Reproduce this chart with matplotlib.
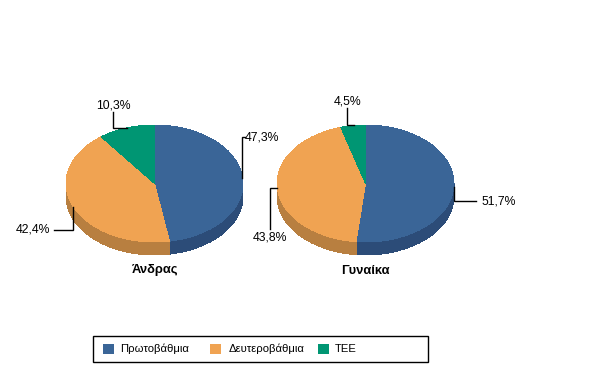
import matplotlib
matplotlib.use('Agg')
import matplotlib.pyplot as plt
from matplotlib.patches import Rectangle

plt.rcParams['font.family'] = ['Liberation Sans', 'DejaVu Sans']

W, H = 601, 368

categories = ['Πρωτοβάθμια', 'Δευτεροβάθμια', 'ΤΕΕ']
groups = ['Άνδρας', 'Γυναίκα']
men = [47.3, 42.4, 10.3]
women = [51.7, 43.8, 4.5]

top_colors = ['#3A6597', '#F0A352', '#009673']
side_colors = ['#2C4C78', '#B87F40', '#007256']

# pixel layout: left, right of the ellipse, label places and leader lines
boxes = [(66, 243), (277, 454)]
pie_top, pie_bottom = 125, 242
depth = 13
men_labels = [((245, 137), 'left', [(242, 178), (242, 137), (245, 137)]),
              ((50, 230), 'right', [(54, 230), (73, 230), (73, 207)]),
              ((113, 105), 'center', [(113, 112), (113, 128), (127, 128)])]
women_labels = [((481, 201), 'left', [(454, 187), (454, 201), (476, 201)]),
                ((270, 237), 'center', [(270, 229), (270, 188), (277, 188)]),
                ((348, 101), 'center', [(347, 108), (347, 125), (354, 125)])]


def fmt(v):
    return f'{v:.1f}%'.replace('.', ',')


fig = plt.figure(figsize=(W / 100, H / 100), dpi=100, facecolor='white')

for (x0, x1), values in zip(boxes, [men, women]):
    ax = fig.add_axes([x0 / W, 1 - pie_bottom / H, (x1 - x0) / W, (pie_bottom - pie_top) / H])
    ry = (pie_bottom - pie_top) / 2
    # stack of darker pies gives the rim
    for d in range(depth, 0, -1):
        ax.pie(values, colors=side_colors, startangle=90, counterclock=False,
               center=(0, -d / ry), radius=1,
               wedgeprops={'linewidth': 0, 'antialiased': False})
    ax.pie(values, colors=top_colors, startangle=90, counterclock=False,
           wedgeprops={'linewidth': 0, 'antialiased': False})
    ax.set_aspect('auto')
    ax.set_xlim(-1, 1)
    ax.set_ylim(-1, 1)
    ax.axis('off')
    for w in ax.patches:
        w.set_clip_on(False)

# overlay in pixel coordinates for labels and legend
ov = fig.add_axes([0, 0, 1, 1])
ov.set_xlim(0, W)
ov.set_ylim(H, 0)
ov.axis('off')

for values, labels in zip([men, women], [men_labels, women_labels]):
    for v, ((tx, ty), ha, pts) in zip(values, labels):
        ov.plot([p[0] for p in pts], [p[1] for p in pts], color='black', lw=1, solid_joinstyle='miter')
        ov.text(tx, ty, fmt(v), ha=ha, va='center', fontsize=8.8, color='black')

for (x0, x1), g in zip(boxes, groups):
    ov.text((x0 + x1) / 2, 270.5, g, ha='center', va='center', fontsize=9.3, fontweight='bold', color='black')

ov.add_patch(Rectangle((92.5, 335.5), 335, 26, fc='white', ec='black', lw=1))
swatches = [103, 210, 318]
text_x = [120, 229, 335]
for c, col, sx, tx in zip(categories, top_colors, swatches, text_x):
    ov.add_patch(Rectangle((sx, 344), 11, 10, fc=col, ec='none'))
    ov.text(tx, 349, c, ha='left', va='center', fontsize=8.1, color='black')

fig.savefig('out.png', dpi=100)
